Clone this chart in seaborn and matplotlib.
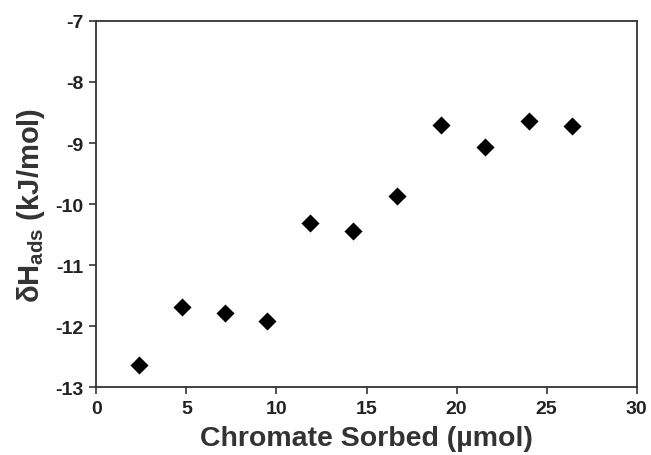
import matplotlib
matplotlib.use("Agg")
import matplotlib.pyplot as plt
import seaborn as sns
import pandas as pd

chromate_sorbed = [2.36, 4.76, 7.13, 9.48, 11.87, 14.26, 16.69, 19.11, 21.56, 24.0, 26.41]
delta_h_ads = [-12.63, -11.69, -11.78, -11.92, -10.31, -10.44, -9.86, -8.70, -9.07, -8.64, -8.72]
x_ticks = [0, 5, 10, 15, 20, 25, 30]
y_ticks = [-13, -12, -11, -10, -9, -8, -7]

sns.set_style("ticks")
plt.rcParams['font.family'] = ['Liberation Sans', 'DejaVu Sans']
plt.rcParams['mathtext.fontset'] = 'custom'
plt.rcParams['mathtext.rm'] = 'Liberation Sans:bold'
plt.rcParams['mathtext.it'] = 'Liberation Sans:bold'
plt.rcParams['mathtext.bf'] = 'Liberation Sans:bold'

df = pd.DataFrame({"x": chromate_sorbed, "y": delta_h_ads})

fig = plt.figure(figsize=(6.51, 4.56), dpi=100)
ax = fig.add_axes([0.148, 0.1485, 0.830, 0.8035])
sns.scatterplot(data=df, x="x", y="y", marker="D", s=85, color="black",
                linewidth=0, ax=ax)

ax.set_xlim(0, 30)
ax.set_ylim(-13, -7)
ax.set_xticks(x_ticks)
ax.set_yticks(y_ticks)
ax.set_xticklabels([str(t) for t in x_ticks], fontsize=14, fontweight="bold", color="#222222")
ax.set_yticklabels([str(t) for t in y_ticks], fontsize=14, fontweight="bold", color="#222222")
ax.tick_params(direction="out", length=5, width=1.2, color="#333333", pad=4)
for sp in ax.spines.values():
    sp.set_visible(True)
    sp.set_linewidth(1.3)
    sp.set_color("#333333")

ax.set_xlabel("Chromate Sorbed (µmol)", fontsize=20.5, fontweight="bold", color="#333333", labelpad=6)
ax.set_ylabel(r"δH$_{\mathrm{ads}}$ (kJ/mol)", fontsize=21, fontweight="bold", color="#333333", labelpad=6)

fig.savefig("out.png", dpi=100)
